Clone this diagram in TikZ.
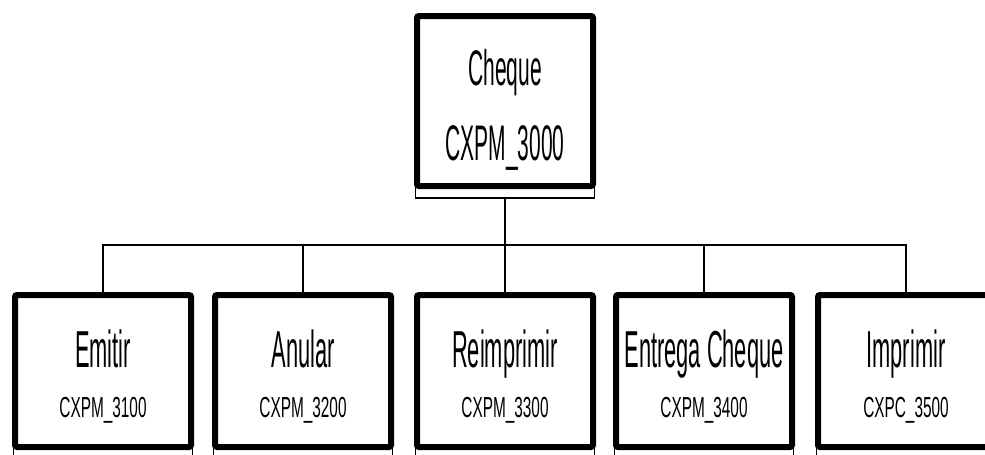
\documentclass[tikz,border=0pt]{standalone}
\usepackage{fontspec}
\newfontfamily\boxfont[FakeStretch=0.42]{Liberation Sans}
\newfontfamily\codefont[FakeStretch=0.53]{Liberation Sans}
\usetikzlibrary{positioning}
\tikzstyle{module}=[draw,line width=6pt,rounded corners=2pt,minimum width=176pt,inner sep=0pt,align=center]
\tikzstyle{topmodule}=[module,minimum height=170pt,font=\boxfont\fontsize{50}{75}\selectfont]
\tikzstyle{submodule}=[module,minimum height=152pt,font=\codefont\fontsize{29}{50}\selectfont]
\tikzstyle{modulebase}=[draw,line width=1.5pt,minimum width=179pt,minimum height=11pt,inner sep=0pt]
\tikzstyle{link}=[draw,line width=1.2pt]

\begin{document}
\begin{tikzpicture}[x=1pt,y=-1pt]
    \useasboundingbox (0,0) rectangle (985,455);
    \clip (0,0) rectangle (985,455);

    \node[topmodule] (cheque) at (505,101) {\rule{0pt}{54pt}Cheque\\CXPM\_3000};
    \node[modulebase, below=-3pt of cheque] (chequebase) {};

    \foreach \x/ \name/ \label/ \code in {103/emitir/Emitir/CXPM\_3100, 303/anular/Anular/CXPM\_3200,
        505/reimprimir/Reimprimir/CXPM\_3300, 704/entrega/Entrega Cheque/CXPM\_3400, 906/imprimir/Imprimir/CXPC\_3500}
    {
        \node[submodule] (\name) at (\x,371) {\rule{0pt}{48pt}{\boxfont\fontsize{52}{52}\selectfont \label}\\\code};
        \node[modulebase, below=-3pt of \name] (\name base) {};
    }

    % Connect the modules to the main one
    \coordinate (bus) at (505,245);
    \path[link] (chequebase) -- (bus);
    \foreach \name in {emitir, anular, reimprimir, entrega, imprimir}
        \path[link] (bus) -| (\name);

\end{tikzpicture}
\end{document}
